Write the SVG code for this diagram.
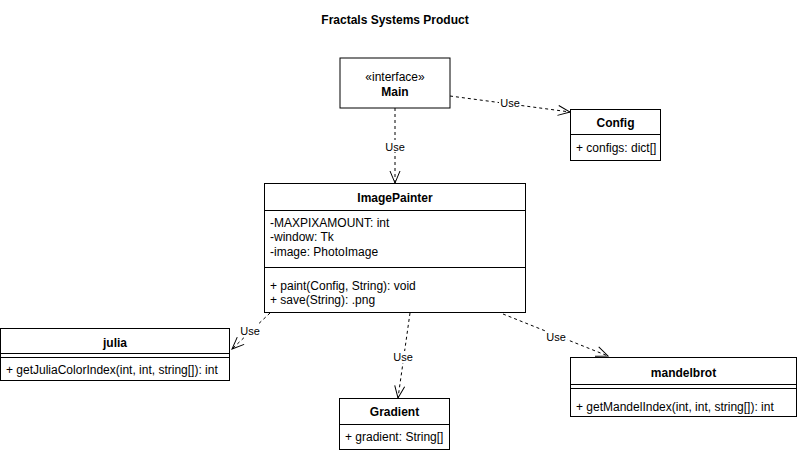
<svg xmlns="http://www.w3.org/2000/svg" width="801" height="454" viewBox="0 0 801 454">
<style>
text{font-family:"Liberation Sans",Arial,sans-serif;font-size:12px;fill:#000}
.b{font-weight:bold}
.c{text-anchor:middle}
.box{fill:#fff;stroke:#000;stroke-width:1}
.ln{stroke:#000;stroke-width:1;fill:none}
.dash{stroke:#000;stroke-width:1;fill:none;stroke-dasharray:3 3}
.lbl{font-size:11px}
</style>
<defs>
<marker id="open" markerUnits="userSpaceOnUse" markerWidth="16" markerHeight="16" refX="13" refY="6" orient="auto" viewBox="0 0 16 12">
<path d="M1,1 L13,6 L1,11" fill="none" stroke="#000" stroke-width="1"/>
</marker>
</defs>
<rect width="801" height="454" fill="#fff"/>
<text class="b c" x="395" y="24">Fractals Systems Product</text>

<g id="connectors">
<path class="dash" d="M450,96 L570,112" marker-end="url(#open)"/>
<rect x="499" y="97" width="22" height="12" fill="#fff"/>
<text class="c lbl" x="510" y="107">Use</text>
<path class="dash" d="M395,108 L395,183" marker-end="url(#open)"/>
<rect x="384" y="140" width="22" height="12" fill="#fff"/>
<text class="c lbl" x="395" y="151">Use</text>
<path class="dash" d="M270,313 L232,349" marker-end="url(#open)"/>
<rect x="239" y="325" width="22" height="12" fill="#fff"/>
<text class="c lbl" x="250" y="335">Use</text>
<path class="dash" d="M410,313 L398,398" marker-end="url(#open)"/>
<rect x="392" y="351" width="22" height="12" fill="#fff"/>
<text class="c lbl" x="403" y="361">Use</text>
<path class="dash" d="M503,314 L608,356" marker-end="url(#open)"/>
<rect x="545" y="331" width="22" height="12" fill="#fff"/>
<text class="c lbl" x="556" y="341">Use</text>
</g>

<g id="main">
<rect class="box" x="340" y="58" width="110" height="50"/>
<text class="c" x="395" y="81">«interface»</text>
<text class="b c" x="395" y="96">Main</text>
</g>

<g id="config">
<rect class="box" x="570.5" y="109.5" width="90" height="51"/>
<line class="ln" x1="570.5" y1="134.5" x2="660.5" y2="134.5"/>
<text class="b c" x="615.5" y="127">Config</text>
<text x="576" y="152">+ configs: dict[]</text>
</g>

<g id="imagepainter">
<rect class="box" x="264.5" y="183.5" width="261" height="129"/>
<line class="ln" x1="264.5" y1="210.5" x2="525.5" y2="210.5"/>
<line class="ln" x1="264.5" y1="267.5" x2="525.5" y2="267.5"/>
<text class="b c" x="395" y="202">ImagePainter</text>
<text x="270" y="227">-MAXPIXAMOUNT: int</text>
<text x="270" y="241">-window: Tk</text>
<text x="270" y="256">-image: PhotoImage</text>
<text x="270" y="290">+ paint(Config, String): void</text>
<text x="270" y="304">+ save(String): .png</text>
</g>

<g id="julia">
<rect class="box" x="0.5" y="328.5" width="229" height="52"/>
<line class="ln" x1="0.5" y1="353.5" x2="229.5" y2="353.5"/>
<line class="ln" x1="0.5" y1="357.5" x2="229.5" y2="357.5"/>
<text class="b c" x="115" y="347">julia</text>
<text x="6" y="374">+ getJuliaColorIndex(int, int, string[]): int</text>
</g>

<g id="gradient">
<rect class="box" x="339.5" y="398.5" width="110" height="51"/>
<line class="ln" x1="339.5" y1="424.5" x2="449.5" y2="424.5"/>
<text class="b c" x="394.5" y="416">Gradient</text>
<text x="345" y="441">+ gradient: String[]</text>
</g>

<g id="mandelbrot">
<rect class="box" x="570.5" y="357.5" width="226" height="59"/>
<line class="ln" x1="570.5" y1="384.5" x2="796.5" y2="384.5"/>
<line class="ln" x1="570.5" y1="388.5" x2="796.5" y2="388.5"/>
<text class="b c" x="683.5" y="377">mandelbrot</text>
<text x="576" y="411">+ getMandelIndex(int, int, string[]): int</text>
</g>
</svg>
